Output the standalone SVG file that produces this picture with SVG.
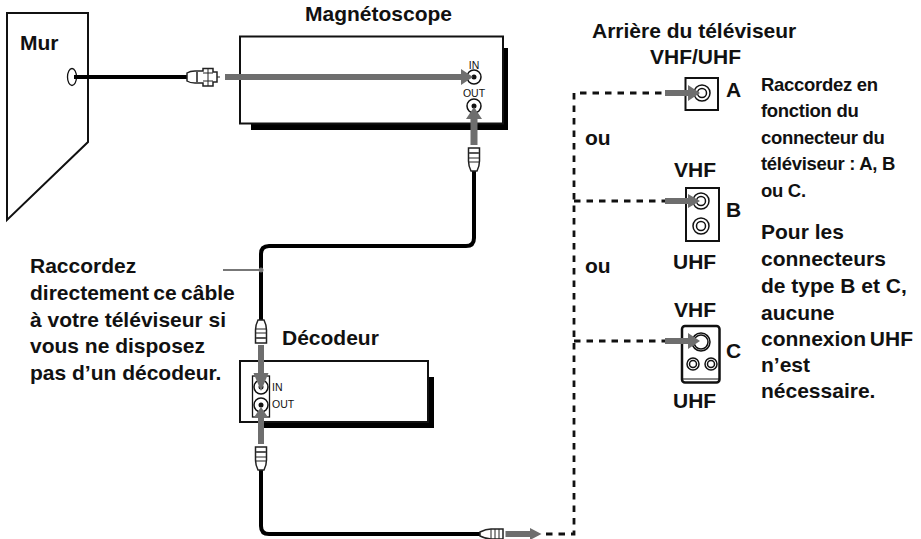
<svg xmlns="http://www.w3.org/2000/svg" width="921" height="539" viewBox="0 0 921 539">
<defs>
<style>
text{font-family:"Liberation Sans",Arial,sans-serif;font-weight:bold;fill:#111}
.t{font-size:21px}.s{font-size:18.500px;letter-spacing:-.3px}.p{font-size:10.500px;font-weight:normal}
.box{fill:#fff;stroke:#111;stroke-width:2}
.cable{fill:none;stroke:#000;stroke-width:4}
.dash{fill:none;stroke:#111;stroke-width:2.800;stroke-dasharray:6.500 6}
.ar{fill:#6e6e6e}
.ring{fill:#fff;stroke:#111;stroke-width:1.500}
.conn{fill:#fff;stroke:#222;stroke-width:1.500}
.ln{fill:none;stroke:#222;stroke-width:1}
.band{fill:none;stroke:#555;stroke-width:2}
</style>
<g id="plugV"><path class="conn" d="M-5.500 0H5.500V13Q5.500 18 3 23H-3Q-5.500 18 -5.500 13Z"/><path class="band" d="M-5 5H5"/><path class="ln" d="M-5 10H5M-5 14H5"/></g>
</defs>
<g id="mur"><path class="box" d="M7 13H88V142L7 220Z"/><text class="t" x="20" y="50">Mur</text><ellipse cx="72" cy="77" rx="4.500" ry="8.500" fill="#fff" stroke="#111" stroke-width="1.300"/></g>
<g id="magnetoscope">
<path d="M251 48H508V130H251Z" fill="#000"/>
<rect class="box" x="240" y="36.500" width="263" height="87"/>
<text class="t" x="305" y="21">Magnétoscope</text>
<circle class="ring" cx="474" cy="77" r="7"/><circle cx="474" cy="77" r="2.500" fill="#111"/>
<circle class="ring" cx="474" cy="106" r="7"/><circle cx="474" cy="106" r="2.500" fill="#111"/>
<text class="p" x="474" y="69" text-anchor="middle">IN</text><text class="p" x="474" y="97" text-anchor="middle">OUT</text>
</g>
<g id="decodeur">
<path d="M263 377H434V428H263Z" fill="#000"/>
<rect class="box" x="240" y="361" width="188" height="61"/>
<text class="t" x="282" y="345">Décodeur</text>
<rect x="252.500" y="376" width="17" height="41" fill="#fff" stroke="#111" stroke-width="1.300"/>
<circle class="ring" cx="261" cy="387" r="7"/><circle cx="261" cy="387" r="2.500" fill="#111"/>
<circle class="ring" cx="261" cy="405" r="7"/><circle cx="261" cy="405" r="2.500" fill="#111"/>
<text class="p" x="272" y="391">IN</text><text class="p" x="272" y="408">OUT</text>
</g>
<g id="tv-a"><rect class="box" x="685.500" y="78" width="32.500" height="32"/><circle class="ring" cx="702" cy="93" r="8"/><circle class="ring" cx="702" cy="93" r="4.500"/></g>
<g id="tv-b"><rect class="box" x="686" y="188" width="33" height="53"/><circle class="ring" cx="701" cy="201" r="8"/><circle class="ring" cx="701" cy="201" r="4.500"/><circle class="ring" cx="701" cy="226" r="8"/><circle class="ring" cx="701" cy="226" r="4.500"/></g>
<g id="tv-c"><rect class="box" x="682" y="326" width="37.500" height="56.500" rx="3" style="stroke-width:2.500"/><path d="M683 379H719" stroke="#111" stroke-width="1"/><circle class="ring" cx="701" cy="342" r="9"/><circle class="ring" cx="701" cy="342" r="7"/><circle class="ring" cx="693" cy="364" r="6"/><circle class="ring" cx="693" cy="364" r="3.500"/><circle class="ring" cx="711" cy="364" r="6"/><circle class="ring" cx="711" cy="364" r="3.500"/></g>
<g id="connectors">
<path class="cable" d="M74 77H188"/>
<path class="cable" d="M474 170V238Q474 246 466 246H269Q261 246 261 254V320"/>
<path class="cable" d="M261 469V526Q261 534 269 534H481"/>
<path class="dash" d="M546 534H574V93H665"/>
<path class="dash" d="M574 201H665"/>
<path class="dash" d="M574 341H665"/>
<path d="M223 270H261" stroke="#777" stroke-width="2"/><circle cx="261" cy="270" r="2.500" fill="#777"/>
<g id="plug-mur"><path class="conn" d="M187 73Q190 71 195 71H203V68.500H213V72H217V82H213V86H203V83H195Q190 83 187 81Z"/><path class="band" d="M197 71V83"/><path class="ln" d="M203 73H213M203 81H213M208 68.500V86M217 77H220"/></g>
<use href="#plugV" transform="translate(474 148)"/>
<use href="#plugV" transform="translate(261 343) rotate(180)"/>
<use href="#plugV" transform="translate(261 447)"/>
<g id="plug-fin"><path class="conn" d="M503 529V539H491Q486 539 480 536V532Q486 529 491 529Z"/><path class="ln" d="M491 529V539M495 529V539M499 529V539"/></g>
<path class="ar" d="M225 74H461V69L473 77L461 85V80H225Z"/>
<path class="ar" d="M470.500 145V119H466L474 107L482 119H477.500V145Z"/>
<path class="ar" d="M258 345V373H253.500L261 391L268.500 373H264V345Z"/>
<path class="ar" d="M258 444V418H253.500L261 407L268.500 418H264V444Z"/>
<path class="ar" d="M505.500 531H530V528L541.500 534L530 540V537H505.500Z"/>
<path class="ar" d="M665 90H688V85L700 93L688 101V96H665Z"/>
<path class="ar" d="M665 198H688V194L700 201L688 208V204H665Z"/>
<path class="ar" d="M665 338H688V333L700 341L688 349V344H665Z"/>
</g>
<g id="labels">
<text class="t" x="592" y="38">Arrière du téléviseur</text>
<text class="t" x="650" y="64">VHF/UHF</text>
<text class="t" x="726" y="97">A</text><text class="t" x="726" y="217">B</text><text class="t" x="726" y="358">C</text>
<text class="t" x="585" y="145">ou</text><text class="t" x="585" y="273">ou</text>
<text class="t" x="674" y="177">VHF</text><text class="t" x="673" y="269">UHF</text>
<text class="t" x="674" y="317">VHF</text><text class="t" x="673" y="408">UHF</text>
<text class="s" x="761" y="91">Raccordez en</text><text class="s" x="761" y="117">fonction du</text><text class="s" x="761" y="144">connecteur du</text><text class="s" x="761" y="170">téléviseur : A, B</text><text class="s" x="761" y="197">ou C.</text>
<text class="t" x="761" y="239">Pour les</text><text class="t" x="761" y="266">connecteurs</text><text class="t" x="761" y="293">de type B et C,</text><text class="t" x="761" y="320">aucune</text><text class="t" x="761" y="346" word-spacing="-2">connexion UHF</text><text class="t" x="761" y="372">n’est</text><text class="t" x="761" y="398">nécessaire.</text>
<text class="t" x="30" y="273">Raccordez</text><text class="t" x="30" y="300" word-spacing="-1.500">directement ce câble</text><text class="t" x="30" y="327">à votre téléviseur si</text><text class="t" x="30" y="353">vous ne disposez</text><text class="t" x="30" y="380">pas d’un décodeur.</text>
</g>
</svg>
